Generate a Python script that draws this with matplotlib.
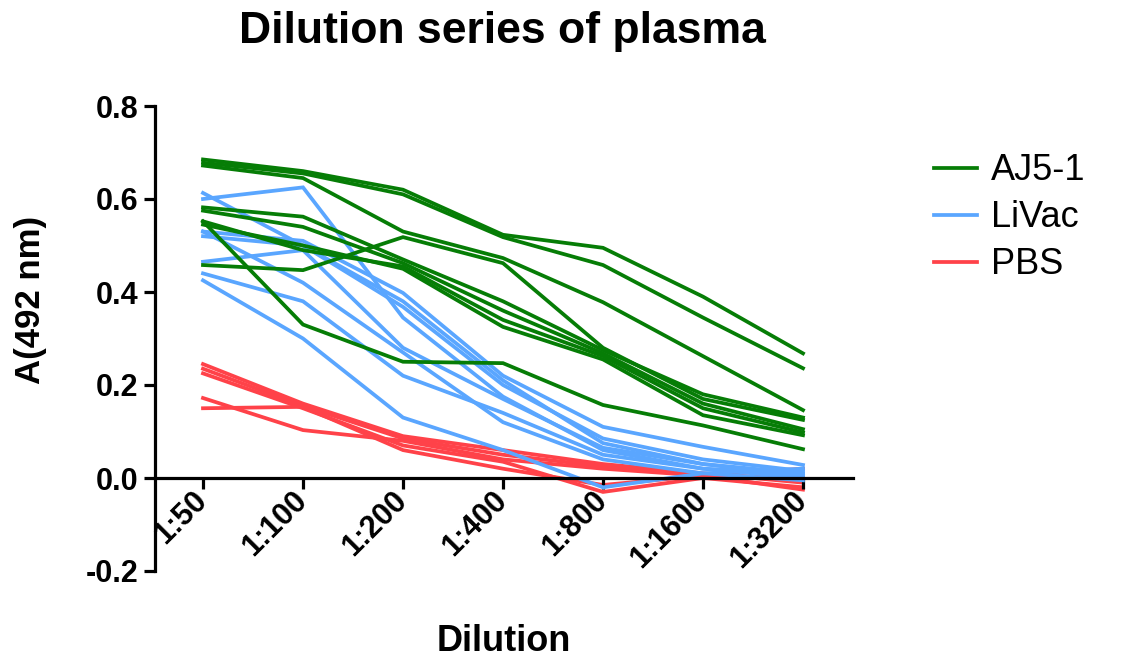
import numpy as np
import matplotlib
matplotlib.use("Agg")
from matplotlib import pyplot as plt
from matplotlib.lines import Line2D

plt.rcParams['font.family'] = ['Liberation Sans', 'DejaVu Sans']

dilutions = ['1:50', '1:100', '1:200', '1:400', '1:800', '1:1600', '1:3200']

# absorbance at 492 nm, one row per animal
aj5_1 = [
    [0.685, 0.660, 0.620, 0.523, 0.495, 0.390, 0.268],
    [0.678, 0.655, 0.610, 0.518, 0.458, 0.345, 0.236],
    [0.672, 0.645, 0.530, 0.473, 0.378, 0.262, 0.146],
    [0.458, 0.447, 0.518, 0.462, 0.280, 0.170, 0.125],
    [0.582, 0.562, 0.470, 0.380, 0.275, 0.180, 0.130],
    [0.575, 0.540, 0.462, 0.360, 0.268, 0.160, 0.105],
    [0.552, 0.490, 0.455, 0.340, 0.262, 0.150, 0.098],
    [0.545, 0.500, 0.450, 0.325, 0.255, 0.135, 0.092],
    [0.552, 0.330, 0.250, 0.247, 0.157, 0.113, 0.062],
]
livac = [
    [0.613, 0.500, 0.380, 0.210, 0.075, 0.030, 0.010],
    [0.600, 0.625, 0.345, 0.175, 0.060, 0.020, 0.000],
    [0.530, 0.510, 0.398, 0.220, 0.110, 0.067, 0.028],
    [0.520, 0.500, 0.368, 0.200, 0.085, 0.040, 0.015],
    [0.465, 0.490, 0.280, 0.170, 0.065, 0.030, 0.005],
    [0.440, 0.380, 0.220, 0.140, 0.050, 0.020, 0.010],
    [0.425, 0.300, 0.130, 0.060, -0.020, 0.010, 0.020],
    [0.530, 0.420, 0.270, 0.120, 0.040, 0.010, -0.005],
]
pbs = [
    [0.245, 0.160, 0.090, 0.060, 0.030, 0.010, -0.010],
    [0.235, 0.155, 0.085, 0.050, 0.025, 0.005, 0.020],
    [0.225, 0.150, 0.070, 0.035, -0.030, 0.000, -0.020],
    [0.172, 0.103, 0.080, 0.040, 0.020, 0.005, -0.025],
    [0.150, 0.153, 0.060, 0.020, -0.015, 0.005, 0.000],
]

groups = [('AJ5-1', aj5_1, '#067d06', 3),
          ('LiVac', livac, '#5aa6ff', 2),
          ('PBS', pbs, '#ff4249', 1)]

fig = plt.figure(figsize=(11.38, 6.64), dpi=100)
ax = fig.add_axes([155/1138, 1-571/664, 698/1138, 465/664])

x = np.arange(len(dilutions))
for name, rows, color, z in groups:
    for row in rows:
        ax.plot(x, row, color=color, lw=2.7, zorder=z, solid_joinstyle='miter')

ax.set_xlim(-0.48, 6.5)
ax.set_ylim(-0.2, 0.8)

ax.spines['top'].set_visible(False)
ax.spines['right'].set_visible(False)
ax.spines['bottom'].set_position(('data', 0))
ax.spines['left'].set_linewidth(2.3)
ax.spines['bottom'].set_linewidth(2.3)

ax.set_yticks([-0.2, 0.0, 0.2, 0.4, 0.6, 0.8])
ax.set_yticklabels(['-0.2', '0.0', '0.2', '0.4', '0.6', '0.8'],
                   fontsize=22, fontweight='bold')
ax.set_xticks(x)
ax.set_xticklabels(dilutions, fontsize=22, fontweight='bold',
                   rotation=45, ha='right', va='center', rotation_mode='anchor')
ax.tick_params(axis='both', width=2.3, length=8, direction='out')
ax.tick_params(axis='x', pad=5)
ax.tick_params(axis='y', pad=4)

ax.set_xlabel('Dilution', fontsize=26, fontweight='bold')
ax.xaxis.set_label_coords(0.5, -0.115)
ax.set_ylabel('A(492 nm)', fontsize=25, fontweight='bold')
ax.yaxis.set_label_coords(-0.179, 0.583)
ax.yaxis.label.set_va('center')

fig.text(502/1138, 1-32/664, 'Dilution series of plasma', fontsize=32,
         fontweight='bold', ha='center', va='center')

handles = [Line2D([], [], color=c, lw=2.7) for _, _, c, _ in groups]
fig.legend(handles, [g[0] for g in groups], loc='upper left',
           bbox_to_anchor=(0.792, 0.818), frameon=False, fontsize=26,
           handlelength=1.2, handletextpad=0.38, labelspacing=0.33)

fig.savefig('out.png', dpi=100)
